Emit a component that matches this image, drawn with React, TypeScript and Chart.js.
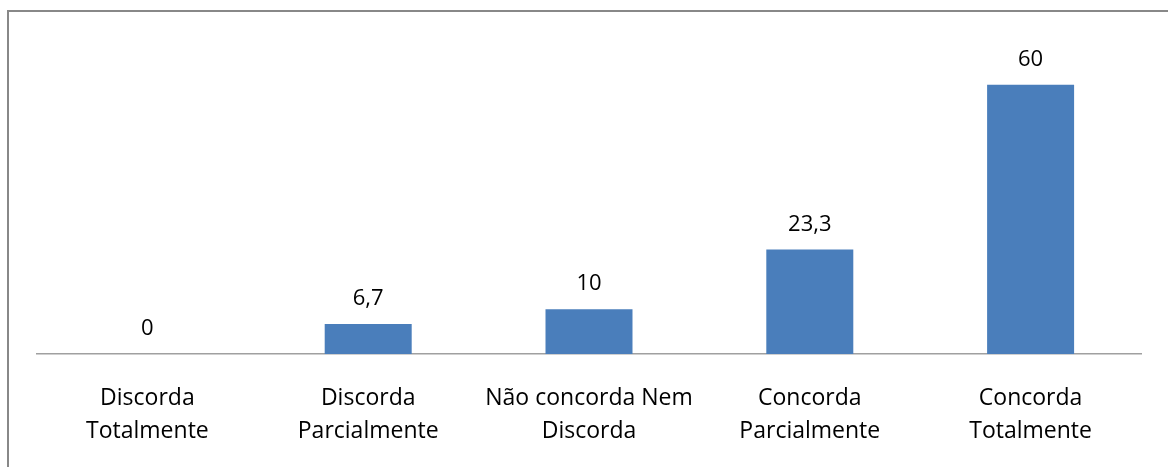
import React, { useEffect, useRef } from "react";
import { Chart, registerables } from "chart.js";

Chart.register(...registerables);

const categories: string[][] = [
  ["Discorda", "Totalmente"],
  ["Discorda", "Parcialmente"],
  ["Não concorda Nem", "Discorda"],
  ["Concorda", "Parcialmente"],
  ["Concorda", "Totalmente"],
];
const values: number[] = [0, 6.7, 10, 23.3, 60];
const valueLabels: string[] = ["0", "6,7", "10", "23,3", "60"];

const FONT = "'Open Sans'";

const valueLabelPlugin = {
  id: "valueLabels",
  afterDatasetsDraw(chart: any) {
    const ctx = chart.ctx;
    const meta = chart.getDatasetMeta(0);
    ctx.save();
    ctx.font = `22px ${FONT}`;
    ctx.fillStyle = "#000";
    ctx.textAlign = "center";
    ctx.textBaseline = "middle";
    meta.data.forEach((bar: any, i: number) => {
      ctx.fillText(valueLabels[i], bar.x, bar.y - 25);
    });
    ctx.restore();
  },
};

export default function App() {
  const ref = useRef<HTMLCanvasElement | null>(null);
  useEffect(() => {
    if (!ref.current) return;
    const chart = new Chart(ref.current, {
      type: "bar",
      data: {
        labels: categories,
        datasets: [
          {
            data: values,
            backgroundColor: "#4a7ebb",
            borderWidth: 0,
            barPercentage: 0.394,
            categoryPercentage: 1,
          },
        ],
      },
      options: {
        animation: false,
        responsive: false,
        maintainAspectRatio: false,
        layout: { padding: { left: 37, right: 27, top: 40, bottom: 18 } },
        plugins: { legend: { display: false }, tooltip: { enabled: false } },
        scales: {
          x: {
            grid: { display: false, drawTicks: false },
            border: { display: true, color: "#a0a0a0", width: 1.5 },
            ticks: {
              color: "#000",
              font: { family: FONT, size: 23, lineHeight: "33px" as any },
              padding: 28,
              maxRotation: 0,
              minRotation: 0,
              autoSkip: false,
            },
          },
          y: {
            display: false,
            min: 0,
            max: 70,
          },
        },
      },
      plugins: [valueLabelPlugin],
    });
    return () => chart.destroy();
  }, []);
  return (
    <div
      style={{
        position: "fixed",
        left: 0,
        top: 0,
        width: 1168,
        height: 467,
        overflow: "hidden",
        background: "#fff",
      }}
    >
      <div
        style={{
          position: "absolute",
          left: 7,
          top: 10,
          width: 1200,
          height: 500,
          border: "2.5px solid #888",
          boxSizing: "border-box",
        }}
      />
      <canvas
        ref={ref}
        width={1168}
        height={494}
        style={{ position: "absolute", left: 0, top: 0, width: 1168, height: 494 }}
      />
    </div>
  );
}
